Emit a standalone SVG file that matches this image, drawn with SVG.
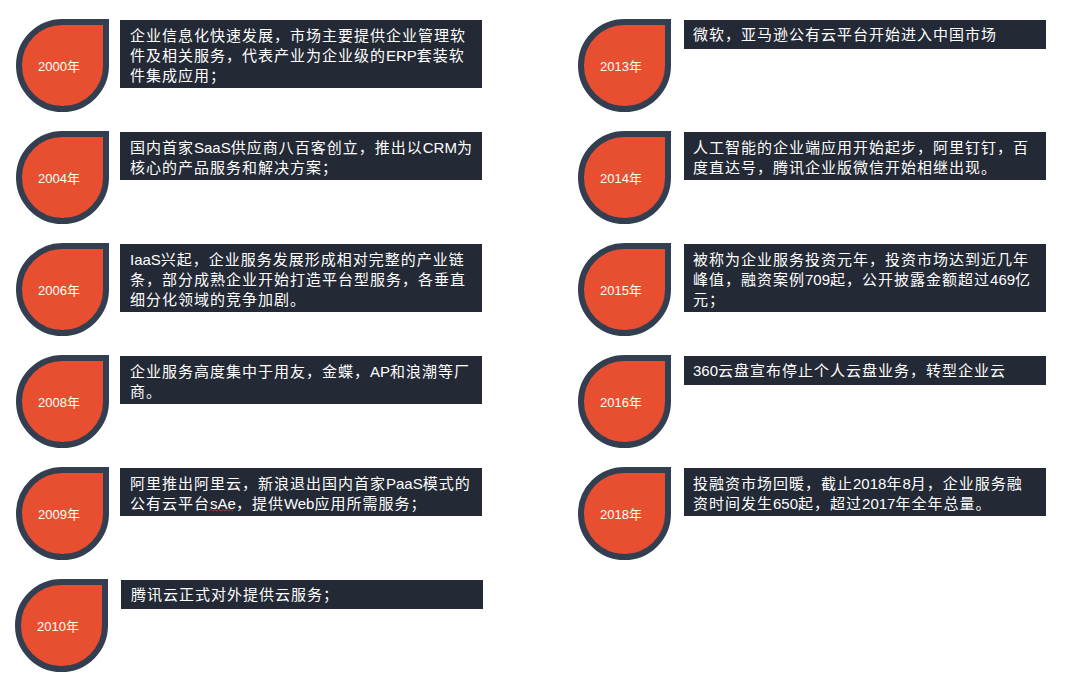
<svg xmlns="http://www.w3.org/2000/svg" width="1082" height="683" viewBox="0 0 1082 683">
<style>
.drop{fill:#E84F30;stroke:#333F51;stroke-width:6}
.box{fill:#232935}
.yr{font-family:"Liberation Sans","Noto Sans CJK SC",sans-serif;font-size:13px;fill:#FFFFFF;text-anchor:middle}
.t{font-family:"Liberation Sans","Noto Sans CJK SC",sans-serif;font-size:15px;letter-spacing:1px;fill:#FFFFFF}
.l{letter-spacing:0}
</style>
<defs>
<path id="drop" d="M0,-43.5 L43.5,-43.5 L43.5,0 A43.5,43.5 0 1 1 0,-43.5 Z"/>
</defs>
<rect width="1082" height="683" fill="#FFFFFF"/>
<g id="connectors"></g>

<g id="n2000">
<use href="#drop" class="drop" x="62.5" y="65.5"/>
<text class="yr" x="59" y="71">2000年</text>
<rect class="box" x="120" y="20" width="362" height="68"/>
<text class="t" x="130" y="41">企业信息化快速发展，市场主要提供企业管理软</text>
<text class="t" x="130" y="61">件及相关服务，代表产业为企业级的<tspan class="l">ERP</tspan>套装软</text>
<text class="t" x="130" y="81">件集成应用；</text>
</g>

<g id="n2004">
<use href="#drop" class="drop" x="62.5" y="177.5"/>
<text class="yr" x="59" y="183">2004年</text>
<rect class="box" x="120" y="132" width="362" height="48"/>
<text class="t" x="130" y="153">国内首家<tspan class="l">SaaS</tspan>供应商八百客创立，推出以<tspan class="l">CRM</tspan>为</text>
<text class="t" x="130" y="173">核心的产品服务和解决方案；</text>
</g>

<g id="n2006">
<use href="#drop" class="drop" x="62.5" y="289.5"/>
<text class="yr" x="59" y="295">2006年</text>
<rect class="box" x="120" y="244" width="362" height="68"/>
<text class="t" x="130" y="265"><tspan class="l">IaaS</tspan>兴起，企业服务发展形成相对完整的产业链</text>
<text class="t" x="130" y="285">条，部分成熟企业开始打造平台型服务，各垂直</text>
<text class="t" x="130" y="305">细分化领域的竞争加剧。</text>
</g>

<g id="n2008">
<use href="#drop" class="drop" x="62.5" y="401.5"/>
<text class="yr" x="59" y="407">2008年</text>
<rect class="box" x="120" y="356" width="362" height="48"/>
<text class="t" x="130" y="377">企业服务高度集中于用友，金蝶，<tspan class="l">AP</tspan>和浪潮等厂</text>
<text class="t" x="130" y="397">商。</text>
</g>

<g id="n2009">
<use href="#drop" class="drop" x="62.5" y="513.5"/>
<text class="yr" x="59" y="519">2009年</text>
<rect class="box" x="120" y="468" width="362" height="48"/>
<text class="t" x="130" y="489">阿里推出阿里云，新浪退出国内首家<tspan class="l">PaaS</tspan>模式的</text>
<text class="t" x="130" y="509">公有云平台<tspan class="l">sAe</tspan>，提供<tspan class="l">Web</tspan>应用所需服务；</text>
<path d="M209,511 l2,-1.5 l2,1.5 l2,-1.5 l2,1.5 l2,-1.5 l2,1.5 l2,-1.5 l2,1.5 l2,-1.5 l2,1.5 l2,-1.5 l2,1.5" fill="none" stroke="#D23A2E" stroke-width="0.8"/>
</g>

<g id="n2010">
<use href="#drop" class="drop" x="61.5" y="625.5"/>
<text class="yr" x="58" y="631">2010年</text>
<rect class="box" x="121" y="580" width="362" height="29"/>
<text class="t" x="131" y="600">腾讯云正式对外提供云服务；</text>
</g>

<g id="n2013">
<use href="#drop" class="drop" x="624.5" y="65.5"/>
<text class="yr" x="621" y="71">2013年</text>
<rect class="box" x="684" y="20" width="362" height="29"/>
<text class="t" x="693" y="40">微软，亚马逊公有云平台开始进入中国市场</text>
</g>

<g id="n2014">
<use href="#drop" class="drop" x="624.5" y="177.5"/>
<text class="yr" x="621" y="183">2014年</text>
<rect class="box" x="684" y="132" width="362" height="48"/>
<text class="t" x="693" y="153">人工智能的企业端应用开始起步，阿里钉钉，百</text>
<text class="t" x="693" y="173">度直达号，腾讯企业版微信开始相继出现。</text>
</g>

<g id="n2015">
<use href="#drop" class="drop" x="624.5" y="289.5"/>
<text class="yr" x="621" y="295">2015年</text>
<rect class="box" x="684" y="244" width="362" height="68"/>
<text class="t" x="693" y="265">被称为企业服务投资元年，投资市场达到近几年</text>
<text class="t" x="693" y="285">峰值，融资案例<tspan class="l">709</tspan>起，公开披露金额超过<tspan class="l">469</tspan>亿</text>
<text class="t" x="693" y="305">元；</text>
</g>

<g id="n2016">
<use href="#drop" class="drop" x="624.5" y="401.5"/>
<text class="yr" x="621" y="407">2016年</text>
<rect class="box" x="684" y="356" width="362" height="29"/>
<text class="t" x="693" y="376"><tspan class="l">360</tspan>云盘宣布停止个人云盘业务，转型企业云</text>
</g>

<g id="n2018">
<use href="#drop" class="drop" x="624.5" y="513.5"/>
<text class="yr" x="621" y="519">2018年</text>
<rect class="box" x="684" y="468" width="362" height="48"/>
<text class="t" x="693" y="489">投融资市场回暖，截止<tspan class="l">2018</tspan>年<tspan class="l">8</tspan>月，企业服务融</text>
<text class="t" x="693" y="509">资时间发生<tspan class="l">650</tspan>起，超过<tspan class="l">2017</tspan>年全年总量。</text>
</g>
</svg>
